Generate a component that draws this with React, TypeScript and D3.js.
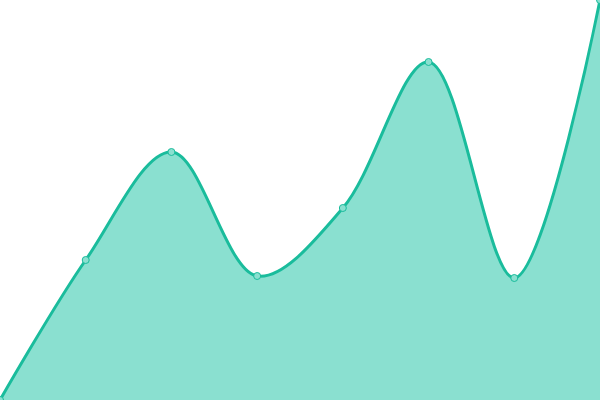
import React, { useEffect, useRef } from 'react';
import * as d3 from 'd3';

const labels = ['A', 'B', 'C', 'D', 'E', 'F', 'G', 'H'];
const values = [0, 35, 62, 31, 48, 84.5, 30.5, 100];

const W = 600;
const H = 400;

const App: React.FC = () => {
  const svgRef = useRef<SVGSVGElement>(null);

  useEffect(() => {
    if (!svgRef.current) return;
    const svg = d3.select(svgRef.current);
    svg.selectAll('*').remove();

    const x = d3.scalePoint<string>().domain(labels).range([0, W]);
    const y = d3.scaleLinear().domain([0, 100]).range([H, 0]);

    const data = labels.map((l, i) => ({ l, v: values[i] }));

    const area = d3.area<{ l: string; v: number }>()
      .x(d => x(d.l)!)
      .y0(H)
      .y1(d => y(d.v))
      .curve(d3.curveCatmullRom);

    const line = d3.line<{ l: string; v: number }>()
      .x(d => x(d.l)!)
      .y(d => y(d.v))
      .curve(d3.curveCatmullRom);

    svg.append('path')
      .datum(data)
      .attr('fill', '#8ae0d0')
      .attr('d', area);

    svg.append('path')
      .datum(data)
      .attr('fill', 'none')
      .attr('stroke', '#1abc9c')
      .attr('stroke-width', 3)
      .attr('d', line);

    svg.selectAll('circle.pt')
      .data(data)
      .enter()
      .append('circle')
      .attr('class', 'pt')
      .attr('cx', d => x(d.l)!)
      .attr('cy', d => y(d.v))
      .attr('r', 3.5)
      .attr('fill', '#8ae0d0')
      .attr('stroke', '#1abc9c')
      .attr('stroke-width', 1);
  }, []);

  return (
    <div style={{ position: 'fixed', left: 0, top: 0, width: W, height: H, background: '#fff' }}>
      <svg ref={svgRef} width={W} height={H} style={{ display: 'block' }}></svg>
    </div>
  );
};

export default App;
